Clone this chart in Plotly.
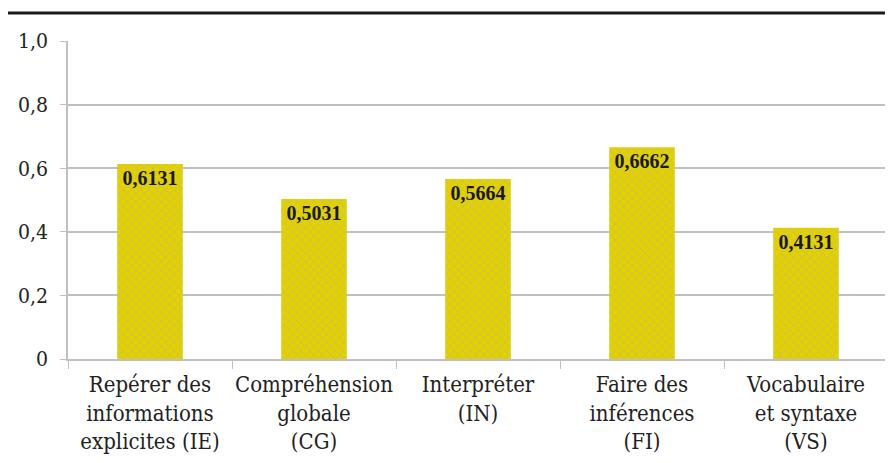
import plotly.graph_objects as go

categories = [
    "Repérer des<br>informations<br>explicites (IE)",
    "Compréhension<br>globale<br>(CG)",
    "Interpréter<br>(IN)",
    "Faire des<br>inférences<br>(FI)",
    "Vocabulaire<br>et syntaxe<br>(VS)",
]
values = [0.6131, 0.5031, 0.5664, 0.6662, 0.4131]
y_tickvals = [0, 0.2, 0.4, 0.6, 0.8, 1.0]
y_ticktext = ["0", "0,2", "0,4", "0,6", "0,8", "1,0"]

labels = [f"{v:.4f}".replace(".", ",") for v in values]

serif_bold = "Liberation Serif"
serif = "DejaVu Serif Condensed"

fig = go.Figure(go.Bar(
    x=categories,
    y=values,
    text=labels,
    textposition="inside",
    insidetextanchor="end",
    textangle=0,
    constraintext="none",
    textfont=dict(family=serif_bold, size=20, color="#1a1a1a", weight="bold"),
    width=0.4,
    marker=dict(
        color="#E0D300",
        line=dict(width=0),
        pattern=dict(shape="x", fgcolor="#CFAF70", bgcolor="#E0D300", size=6, solidity=0.3),
    ),
    hoverinfo="skip",
))

fig.update_layout(
    width=885, height=455,
    margin=dict(l=60, r=5, t=33, b=104, autoexpand=False),
    plot_bgcolor="white", paper_bgcolor="white",
    showlegend=False,
    font=dict(family=serif, size=20, color="#222222"),
    shapes=[dict(type="line", xref="paper", yref="paper",
                 x0=-0.0732, x1=1.01, y0=1.088, y1=1.088,
                 line=dict(color="#1a1a1a", width=3))],
)
fig.update_yaxes(
    range=[0, 1.0], tickvals=y_tickvals, ticktext=y_ticktext,
    showgrid=True, gridcolor="#C0C0C0", gridwidth=1.5,
    showline=True, linecolor="#C0C0C0", linewidth=1.5,
    ticks="outside", ticklen=6, tickcolor="#C0C0C0",
    ticklabelstandoff=8,
    zeroline=False, automargin=False,
    tickfont=dict(family=serif, size=21, color="#222222"),
)
fig.update_xaxes(
    showgrid=False, showline=True, linecolor="#C0C0C0", linewidth=1.5,
    ticks="outside", tickson="boundaries", ticklen=8, tickcolor="#C0C0C0",
    ticklabelstandoff=5, tickangle=0,
    automargin=False,
    tickfont=dict(family=serif, size=22, color="#222222"),
)

fig.write_html("out.html")
